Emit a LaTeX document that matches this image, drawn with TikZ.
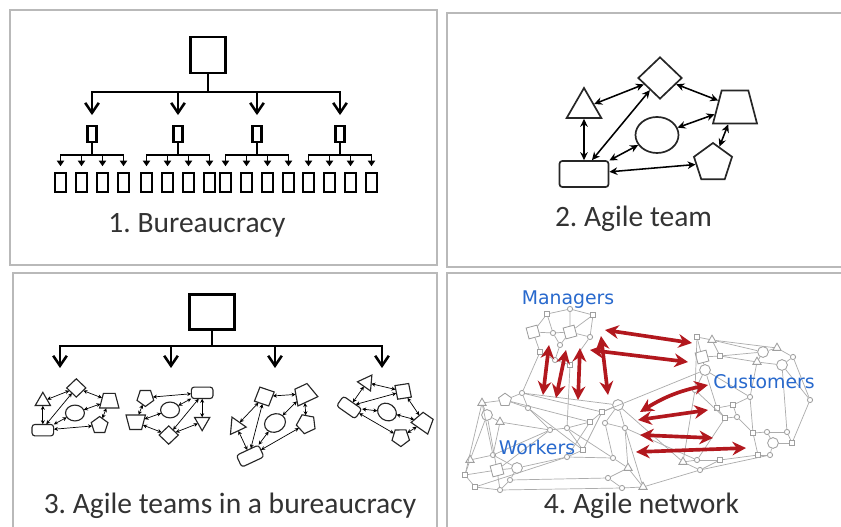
\documentclass[tikz,border=0pt]{standalone}
\usepackage{fontspec}
\setmainfont{Carlito}
\newfontfamily\tagfont{DejaVu Sans}
\usetikzlibrary{arrows.meta,shapes.geometric}
\frenchspacing
\definecolor{pullred}{RGB}{178,24,30}
\definecolor{tagblue}{RGB}{40,105,205}
\tikzset{
  member/.style={draw=black!85, fill=white, line width=1.2pt, inner sep=1pt},
  link/.style={line width=1.1pt, {Stealth[length=2mm,width=1.9mm]}-{Stealth[length=2mm,width=1.9mm]}},
  pics/team/.style={code={
    \node[member, rounded corners=2pt, minimum width=1.225cm, minimum height=0.65cm] (-desk) at (-74,-52) {};
    \node[member, regular polygon, regular polygon sides=3, minimum size=1cm] (-tri) at (-74,14) {};
    \node[member, diamond, minimum width=1.1cm, minimum height=1.05cm] (-dia) at (2,44) {};
    \node[member, trapezium, trapezium left angle=72, trapezium right angle=72, trapezium stretches, minimum width=1.1cm, minimum height=0.825cm] (-trap) at (77,15) {};
    \node[member, ellipse, minimum width=1.075cm, minimum height=0.9cm] (-ell) at (-1,-13) {};
    \node[member, regular polygon, regular polygon sides=5, minimum size=1cm] (-pent) at (55,-41) {};
    \draw[link] (-tri) -- (-dia);
    \draw[link] (-desk.north) -- (-tri);
    \draw[link] (-desk.60) -- (-dia);
    \draw[link] (-desk) -- (-ell);
    \draw[link] (-desk) -- (-pent);
    \draw[link] (-dia) -- (-trap);
    \draw[link] (-ell) -- (-trap);
    \draw[link] (-trap) -- (-pent);
  }}
}
\begin{document}
\begin{tikzpicture}[x=0.025cm, y=0.025cm,
  panel/.style={draw=gray!55, line width=1.2pt},
  caption/.style={font=\fontsize{21}{25}\selectfont, text=black!80, anchor=base, inner sep=0pt},
  topbox/.style={draw, line width=1.8pt, inner sep=0pt},
  midbox/.style={draw, line width=1.5pt, minimum width=0.225cm, minimum height=0.4cm, inner sep=0pt},
  lowbox/.style={draw, line width=1.6pt, minimum width=0.275cm, minimum height=0.475cm, inner sep=0pt},
  feed/.style={line width=1.8pt, -{Straight Barb[length=2.5mm,width=3.4mm]}},
  subline/.style={line width=1.4pt},
  subfeed/.style={line width=1.4pt, -{Triangle[length=1.4mm,width=1.8mm]}, shorten >=4pt},
  wire/.style={draw=gray!65, line width=0.5pt},
  netdot/.style={circle, draw=gray!75, fill=white, line width=0.6pt, inner sep=0.3pt, minimum size=0.13cm},
  netring/.style={netdot, minimum size=0.27cm},
  netbox/.style={netdot, rectangle, minimum size=0.13cm},
  netbigbox/.style={netdot, rectangle, minimum size=0.28cm, rotate=15},
  nettri/.style={netdot, regular polygon, regular polygon sides=3, minimum size=0.24cm},
  netpent/.style={netdot, regular polygon, regular polygon sides=5, minimum size=0.34cm},
  pull/.style={pullred, line width=2.6pt, {Stealth[length=3.4mm,width=3.4mm]}-{Stealth[length=3.4mm,width=3.4mm]}},
  tag/.style={font=\tagfont\fontsize{13.4}{16}\selectfont, text=tagblue, inner sep=1pt}]
\useasboundingbox (0,0) rectangle (841,526);
\clip (0,0) rectangle (841,526);
\fill[white] (0,0) rectangle (841,526);

\draw[panel] (10,261) rectangle (437,516);
\draw[panel] (447,259) rectangle (850,513);
\draw[panel] (13,-10) rectangle (437,253);
\draw[panel] (447,-10) rectangle (850,253);

% 1. Bureaucracy
\node[topbox, minimum width=0.875cm, minimum height=0.9cm] (top) at (208,471) {};
\coordinate (hub) at (208,434);
\draw[feed, -] (top) -- (hub);
\foreach \g [count=\i] in {92,178,257,340}{
  \node[midbox] (mid\i) at (\g,392) {};
  \coordinate (sh\i) at (\g,371);
  \draw[feed, shorten >=7pt] (hub) -| (mid\i);
  \draw[subline] (mid\i) -- (sh\i);
  \foreach \d [count=\j] in {-31.5,-10.5,10.5,31.5}{
    \node[lowbox] (low\i\j) at (\g+\d,343.5) {};
    \draw[subfeed] (sh\i) -| (low\i\j);
  }
}
\node[caption] (cap1) at (197,293) {1. Bureaucracy};

% 2. Agile team
\pic (crew) at (658,404) {team};
\node[caption] (cap2) at (633.5,299) {2. Agile team};

% 3. Agile teams in a bureaucracy
\node[topbox, minimum width=1.125cm, minimum height=0.875cm] (head) at (212,214) {};
\coordinate (hub3) at (212,180);
\draw[feed, -] (head) -- (hub3);
\foreach \x [count=\i] in {60,171,275,382}{
  \coordinate (dn\i) at (\x,158);
  \draw[feed] (hub3) -| (dn\i);
}
\begin{scope}[member/.append style={line width=0.8pt},
  link/.append style={line width=0.5pt, {Stealth[length=1mm,width=1mm]}-{Stealth[length=1mm,width=1mm]}}]
  \pic[scale=0.44, transform shape] (t1) at (75.4,118.7) {team};
  \pic[rotate=180, scale=0.44, transform shape] (t2) at (169.6,110.3) {team};
  \pic[rotate=25, scale=0.5, transform shape] (t3) at (272.7,109.1) {team};
  \pic[rotate=-35, scale=0.46, transform shape] (t4) at (390.8,118.6) {team};
\end{scope}
\node[caption] (cap3) at (230,13) {3. Agile teams in a bureaucracy};

% 4. Agile network
\foreach \n/\x/\y/\s in {
  wk1/482/123/nettri, wk2/505/126/netpent, wk3/522/133/netdot, wk4/487/111/netring,
  wk5/500/104/nettri, wk6/528/118/netdot, wk7/550/96/netdot, wk8/567/98/netdot,
  wk9/590/104/netbox, wk10/618/121/netring, wk11/605/103/netdot, wk12/625/98/netdot,
  wk13/602/114/netbox, wk14/470/66/nettri, wk15/465/51/netbox, wk16/497/56/netbigbox,
  wk17/517/58/netring, wk18/510/46/netdot, wk19/500/36/netdot, wk20/475/39/netbox,
  wk21/567/69/netdot, wk22/613/68/netdot, wk23/628/58/nettri, wk24/608/48/netdot,
  wk25/622/38/netdot, wk26/643/39/nettri, wk27/583/76/netbox, wk28/493/71/netdot,
  cu1/697/189/netbox, cu2/712/186/nettri, cu3/702/169/netbigbox, cu4/720/170/netbox,
  cu5/705/156/netring, cu6/763/174/netring, cu7/777/178/nettri, cu8/793/169/netdot,
  cu9/757/164/nettri, cu10/782/161/netring, cu11/717/118/netbox, cu12/733/121/netbox,
  cu13/750/129/netdot, cu14/725/108/netbox, cu15/737/109/netdot, cu16/753/93/netbox,
  cu17/767/94/netdot, cu18/787/94/netdot, cu19/773/83/netring, cu20/792/83/netbox,
  cu21/683/64/nettri, cu22/697/66/netdot, cu23/720/66/netbox, cu24/700/56/netdot,
  cu25/770/71/netdot, cu26/758/71/netbox, cu27/810/126/netdot, cu28/695/136/netdot,
  mg1/547/212/netbox, mg2/570/217/netdot, mg3/593/211/netbox, mg4/533/194/netbigbox,
  mg5/553/193/netdot, mg6/570/194/netbigbox, mg7/590/189/netdot, mg8/540/174/netbox,
  mg9/555/166/netdot, mg10/570/161/netbox, mg11/560/181/netdot}
  \node[\s] (\n) at (\x,\y) {};
\foreach \a/\b in {
  wk1/wk2, wk2/wk3, wk1/wk4, wk4/wk5, wk2/wk6, wk3/wk6, wk5/wk7, wk6/wk7, wk7/wk8,
  wk8/wk9, wk9/wk13, wk13/wk10, wk10/wk11, wk11/wk12, wk10/wk12, wk3/wk13, wk2/wk9,
  wk4/wk16, wk5/wk28, wk28/wk14, wk14/wk15, wk15/wk16, wk16/wk17, wk17/wk18, wk18/wk19,
  wk19/wk20, wk20/wk15, wk16/wk19, wk28/wk17, wk17/wk21, wk21/wk27, wk27/wk8, wk21/wk22,
  wk22/wk23, wk23/wk24, wk24/wk25, wk25/wk26, wk26/wk23, wk22/wk11, wk27/wk13, wk18/wk24,
  wk19/wk25, wk20/wk21, wk7/wk28, wk6/wk27, wk12/wk23, wk1/wk28, wk14/wk4, wk3/wk10,
  wk8/wk22, wk9/wk21, wk16/wk7, wk15/wk1, wk26/wk12,
  cu1/cu2, cu1/cu3, cu2/cu4, cu3/cu4, cu3/cu5, cu4/cu6, cu2/cu7, cu6/cu7, cu7/cu8,
  cu6/cu9, cu9/cu10, cu8/cu10, cu5/cu13, cu5/cu11, cu11/cu12, cu12/cu13, cu11/cu14,
  cu14/cu15, cu12/cu15, cu13/cu16, cu15/cu16, cu16/cu17, cu17/cu18, cu17/cu19, cu18/cu20,
  cu19/cu20, cu19/cu25, cu25/cu26, cu26/cu23, cu23/cu22, cu22/cu21, cu21/cu24, cu24/cu23,
  cu14/cu22, cu10/cu18, cu8/cu27, cu27/cu20, cu28/cu5, cu28/cu14, cu28/cu21, cu1/cu28,
  cu9/cu13, cu10/cu27, cu2/cu6, cu26/cu16, cu24/cu25, cu4/cu9,
  mg1/mg2, mg2/mg3, mg1/mg4, mg1/mg5, mg2/mg6, mg3/mg7, mg4/mg5, mg5/mg6, mg6/mg7,
  mg4/mg8, mg8/mg9, mg9/mg10, mg11/mg6, mg11/mg9, mg5/mg11, mg7/mg10, mg3/mg6,
  wk10/cu21, wk12/cu22, wk26/cu24, mg8/wk3, mg10/wk8, wk13/cu5}
  \draw[wire] (\a) -- (\b);
\node[tag] (managers) at (568,226) {Managers};
\node[tag] (customers) at (764,144) {Customers};
\node[tag] (workers) at (537,79) {Workers};
\foreach \n/\x/\y/\u/\v/\b in {
  1/549/181/543/131/0, 2/566/176/556/128/0, 3/580/178/578/126/0, 4/601/190/608/131/0,
  5/605/196/692/183/0, 6/590/176/688/164/0, 7/640/114/708/141/10,
  8/638/106/708/116/0, 9/640/91/713/88/0, 10/636/74/746/78/0}{
  \coordinate (ra\n) at (\x,\y);
  \coordinate (rb\n) at (\u,\v);
  \draw[pull] (ra\n) to[bend left=\b] (rb\n);
}
\node[caption] (cap4) at (641.5,13) {4. Agile network};
\end{tikzpicture}
\end{document}
